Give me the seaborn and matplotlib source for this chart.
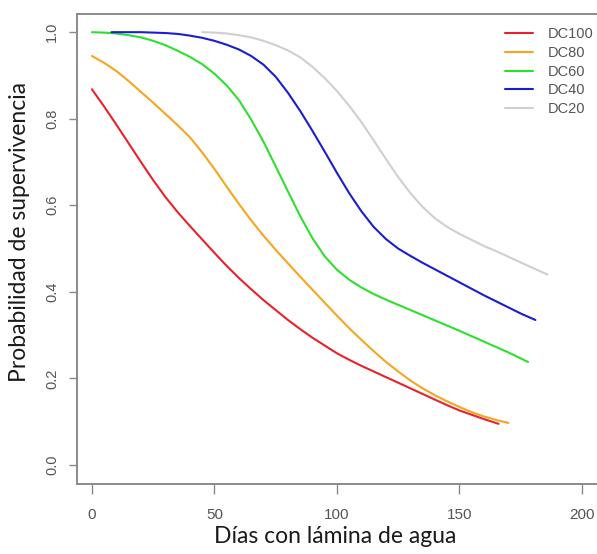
import matplotlib
matplotlib.use("Agg")
import matplotlib.pyplot as plt
import seaborn as sns
import pandas as pd

# curvas de supervivencia
dias_dc100 = [0, 5, 10, 15, 20, 25, 30, 35, 40, 45, 50, 55, 60, 65, 70, 75, 80, 85, 90, 95, 100,
              105, 110, 115, 120, 125, 130, 135, 140, 145, 150, 155, 160, 166]
prob_dc100 = [0.868, 0.828, 0.786, 0.743, 0.700, 0.658, 0.619, 0.584, 0.552, 0.521, 0.490, 0.460,
              0.432, 0.406, 0.381, 0.358, 0.335, 0.314, 0.294, 0.276, 0.258, 0.243, 0.229, 0.216,
              0.203, 0.190, 0.177, 0.164, 0.151, 0.138, 0.126, 0.116, 0.106, 0.095]

dias_dc80 = [0, 5, 10, 15, 20, 25, 30, 35, 40, 45, 50, 55, 60, 65, 70, 75, 80, 85, 90, 95, 100,
             105, 110, 115, 120, 125, 130, 135, 140, 145, 150, 155, 160, 165, 170]
prob_dc80 = [0.945, 0.929, 0.910, 0.887, 0.862, 0.837, 0.811, 0.785, 0.757, 0.722, 0.684, 0.643,
             0.603, 0.565, 0.530, 0.497, 0.466, 0.435, 0.405, 0.375, 0.345, 0.316, 0.289, 0.263,
             0.238, 0.216, 0.195, 0.177, 0.161, 0.147, 0.134, 0.122, 0.112, 0.104, 0.097]

dias_dc60 = [0, 5, 10, 15, 20, 25, 30, 35, 40, 45, 50, 55, 60, 65, 70, 75, 80, 85, 90, 95, 100,
             105, 110, 115, 120, 125, 130, 135, 140, 145, 150, 160, 170, 178]
prob_dc60 = [1.0, 0.999, 0.997, 0.993, 0.988, 0.980, 0.970, 0.957, 0.943, 0.926, 0.904, 0.877,
             0.843, 0.798, 0.747, 0.690, 0.632, 0.575, 0.524, 0.482, 0.451, 0.428, 0.410, 0.395,
             0.382, 0.370, 0.358, 0.346, 0.334, 0.322, 0.310, 0.285, 0.260, 0.238]

dias_dc40 = [8, 15, 20, 25, 30, 35, 40, 45, 50, 55, 60, 65, 70, 75, 80, 85, 90, 95, 100, 105, 110,
             115, 120, 125, 130, 135, 140, 145, 150, 155, 160, 165, 170, 175, 181]
prob_dc40 = [1.0, 1.0, 1.0, 0.999, 0.998, 0.996, 0.992, 0.987, 0.980, 0.971, 0.960, 0.945, 0.925,
             0.897, 0.860, 0.818, 0.772, 0.724, 0.675, 0.628, 0.586, 0.550, 0.522, 0.500, 0.483,
             0.467, 0.452, 0.437, 0.422, 0.407, 0.392, 0.378, 0.364, 0.350, 0.335]

dias_dc20 = [45, 50, 55, 60, 65, 70, 75, 80, 85, 90, 95, 100, 105, 110, 115, 120, 125, 130, 135,
             140, 145, 150, 155, 160, 165, 170, 175, 180, 186]
prob_dc20 = [1.0, 0.999, 0.997, 0.993, 0.988, 0.980, 0.970, 0.958, 0.942, 0.920, 0.894, 0.864,
             0.830, 0.792, 0.750, 0.707, 0.665, 0.628, 0.596, 0.570, 0.550, 0.534, 0.520, 0.506,
             0.494, 0.481, 0.468, 0.455, 0.440]

series = ["DC100", "DC80", "DC60", "DC40", "DC20"]
colores = {"DC100": "#e8222c", "DC80": "#f7a51e", "DC60": "#2ee02e",
           "DC40": "#1c1cd0", "DC20": "#cfcfcf"}

frames = []
for nombre, d, p in zip(series,
                        [dias_dc100, dias_dc80, dias_dc60, dias_dc40, dias_dc20],
                        [prob_dc100, prob_dc80, prob_dc60, prob_dc40, prob_dc20]):
    frames.append(pd.DataFrame({"dias": d, "prob": p, "serie": nombre}))
df = pd.concat(frames, ignore_index=True)

sns.set_style("white")
plt.rcParams["font.family"] = ["Liberation Sans", "DejaVu Sans"]

W, H = 597, 554
fig = plt.figure(figsize=(W / 100, H / 100), dpi=100)
ax = fig.add_axes([77 / W, 1 - 484 / H, (603 - 77) / W, (484 - 14) / H])

sns.lineplot(data=df, x="dias", y="prob", hue="serie", hue_order=series,
             palette=colores, estimator=None, sort=False, linewidth=1.5, ax=ax, legend=False)

ax.set_xlim(-6.1, 208.6)
ax.set_ylim(-0.044, 1.042)
ax.set_xticks([0, 50, 100, 150, 200])
ax.set_yticks([0.0, 0.2, 0.4, 0.6, 0.8, 1.0])
ax.set_yticklabels(["0.0", "0.2", "0.4", "0.6", "0.8", "1.0"], rotation=90, va="center")

for lado in ["left", "bottom", "top", "right"]:
    ax.spines[lado].set_color("#8a8a8a")
    ax.spines[lado].set_linewidth(1.4)
ax.tick_params(axis="x", direction="out", length=7, width=1.0, color="#8a8a8a",
               labelsize=11, labelcolor="#555555", pad=10, bottom=True)
ax.tick_params(axis="y", direction="out", length=6, width=1.0, color="#8a8a8a",
               labelsize=10.5, labelcolor="#555555", pad=7, left=True)

ax.set_xlabel("Días con lámina de agua", family=["Lato", "DejaVu Sans"], fontsize=16.5, color="#1a1a1a")
ax.set_ylabel("Probabilidad de supervivencia", family=["Lato", "DejaVu Sans"], fontsize=16.5, color="#1a1a1a")
ax.xaxis.set_label_coords(0.49, -0.09)
ax.yaxis.set_label_coords(-0.089, 0.536)

handles = [plt.Line2D([], [], color=colores[s], linewidth=1.5) for s in series]
leg = ax.legend(handles, series, loc="upper left", bbox_to_anchor=(505 / W, 1 - 27 / H),
                bbox_transform=fig.transFigure, frameon=False, borderpad=0, borderaxespad=0,
                handlelength=1.9, handletextpad=1.0, labelspacing=0.33, fontsize=10.5)
for t in leg.get_texts():
    t.set_color("#555555")

fig.savefig("out.png", dpi=100)
